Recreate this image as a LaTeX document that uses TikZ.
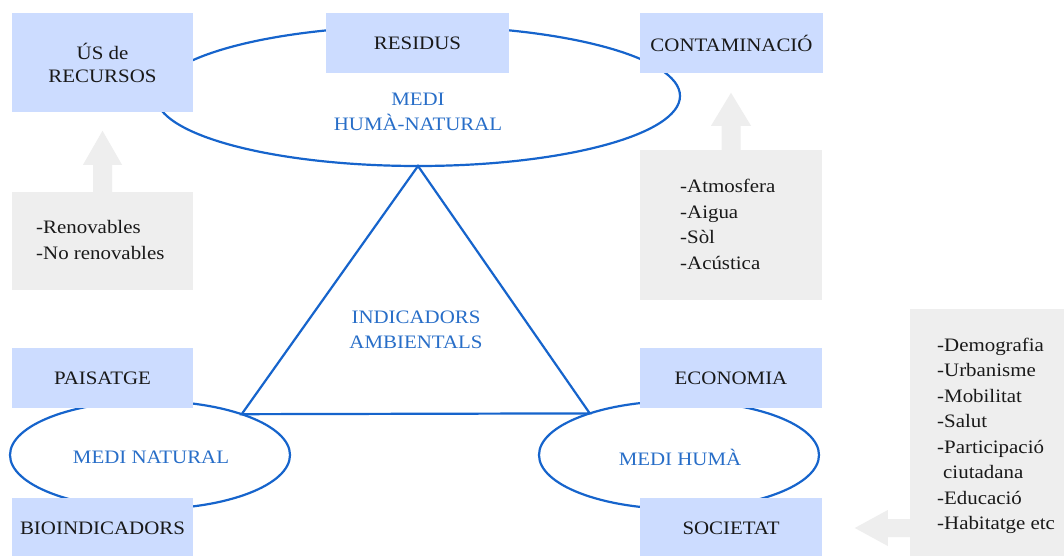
\documentclass[tikz,border=0pt]{standalone}
\usepackage{fontspec}
\setmainfont{Liberation Serif}[FakeStretch=1.1]
\usetikzlibrary{shapes.geometric}
\definecolor{boxblue}{RGB}{204,220,255}
\definecolor{greybox}{RGB}{238,238,238}
\definecolor{lineblue}{RGB}{22,100,204}
\definecolor{txtblue}{RGB}{40,110,200}
\definecolor{txtdark}{RGB}{25,25,25}
\begin{document}
\begin{tikzpicture}[x=1pt,y=-1pt,
  bluebox/.style={fill=boxblue, minimum width=181pt, minimum height=60pt, inner sep=0pt, align=center, text=txtdark, font=\fontsize{19}{23}\selectfont},
  greyrect/.style={fill=greybox, inner sep=0pt},
  listtext/.style={align=left, text=txtdark, font=\fontsize{19}{25.5}\selectfont, inner sep=0pt, anchor=west},
  oval/.style={ellipse, draw=lineblue, line width=2.2pt, inner sep=0pt, outer sep=0pt},
  bluelabel/.style={align=center, text=txtblue, font=\fontsize{19}{25}\selectfont, inner sep=0pt},
  blockarrow/.style={fill=greybox},
  tri/.style={draw=lineblue, line width=2.2pt, line join=miter}
]
\useasboundingbox (0,0) rectangle (1064,556);
\fill[white] (0,0) rectangle (1064,556);

% ellipses
\node[oval, minimum width=524pt, minimum height=140pt] (hn) at (418,96) {};
\node[oval, minimum width=280pt, minimum height=108pt] (nat) at (150,455) {};
\node[oval, minimum width=280pt, minimum height=108pt] (hum) at (679,455) {};

% triangle
\draw[tri] (hn.south) -- (nat.24) -- (hum.155) -- cycle;

% grey boxes
\node[greyrect, minimum width=181pt, minimum height=98pt] (ren) at (102.5,241) {};
\node[greyrect, minimum width=182pt, minimum height=150pt] (atm) at (731,225) {};
\node[greyrect, minimum width=160pt, minimum height=260pt] (lst) at (990,439) {};

% blue boxes
\node[bluebox, minimum height=99pt] (us) at (102.5,62.5) {ÚS de\\RECURSOS};
\node[bluebox, minimum width=183pt] (res) at (417.5,43) {RESIDUS};
\node[bluebox, minimum width=183pt] (con) at (731.5,43) {CONTAMINACIÓ};
\node[bluebox] (pai) at (102.5,378) {PAISATGE};
\node[bluebox] (bio) at (102.5,528) {BIOINDICADORS};
\node[bluebox, minimum width=182pt] (eco) at (731,378) {ECONOMIA};
\node[bluebox, minimum width=182pt] (soc) at (731,528) {SOCIETAT};

% block arrows
\path[blockarrow] (ren.north) ++(-9.5,0) -- ++(0,-27) -- ++(-10,0) -- ++(19.5,-34) -- ++(19.5,34) -- ++(-10,0) -- ++(0,27) -- cycle;
\path[blockarrow] (atm.north) ++(-9.5,0) -- ++(0,-24) -- ++(-10.5,0) -- ++(20,-33) -- ++(20,33) -- ++(-10.5,0) -- ++(0,24) -- cycle;
\path[blockarrow] (lst.west |- soc) ++(0,-9) -- ++(-22,0) -- ++(0,-9) -- ++(-33,18) -- ++(33,18) -- ++(0,-9) -- ++(22,0) -- cycle;

% list texts
\node[listtext] (rentxt) at (36,240) {-Renovables\\-No renovables};
\node[listtext] (atmtxt) at (680,224.5) {-Atmosfera\\-Aigua\\-Sòl\\-Acústica};
\node[listtext] (lsttxt) at (937,436) {-Demografia\\-Urbanisme\\-Mobilitat\\-Salut\\-Participació\\\hspace{6pt}ciutadana\\-Educació\\-Habitatge etc};

% blue labels
\node[bluelabel] (hnlab) at (418,112) {MEDI\\HUMÀ-NATURAL};
\node[bluelabel] (indlab) at (416,330) {INDICADORS\\AMBIENTALS};
\node[bluelabel] (natlab) at (151,457) {MEDI NATURAL};
\node[bluelabel] (humlab) at (680,457) {MEDI HUMÀ};
\end{tikzpicture}
\end{document}
